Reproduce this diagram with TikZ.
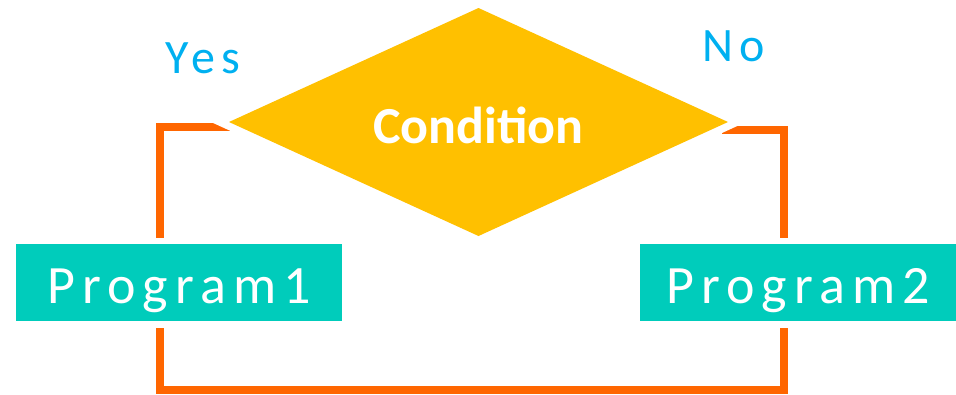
\documentclass[tikz,border=0pt]{standalone}
\usepackage{fontspec}
\setmainfont{Carlito}
\newfontfamily\spacedfont[LetterSpace=13]{Carlito}
\usetikzlibrary{shapes.geometric,backgrounds}
\definecolor{condyellow}{HTML}{FFC000}
\definecolor{progteal}{HTML}{00CCBB}
\definecolor{lblblue}{HTML}{00B0F0}
\definecolor{connorange}{HTML}{FF6600}
\begin{document}
\begin{tikzpicture}[x=1pt,y=-1pt,
  condbox/.style={diamond, aspect=2.2, fill=condyellow, minimum width=499pt, minimum height=228pt,
    inner sep=0pt, outer sep=0pt, preaction={draw=white, line width=15pt},
    text=white, font=\bfseries\fontsize{52}{60}\selectfont, text height=42pt, text depth=0pt},
  progbox/.style={rectangle, fill=progteal, minimum width=326pt, minimum height=77pt,
    inner sep=0pt, outer sep=0pt, text=white, font=\spacedfont\fontsize{54}{62}\selectfont,
    text height=41pt, text depth=0pt},
  lbl/.style={text=lblblue, font=\spacedfont\fontsize{48}{56}\selectfont, anchor=base west, inner sep=0pt},
  conn/.style={draw=connorange, line width=8pt}]
\useasboundingbox (0,0) rectangle (956,394);
\node[condbox] (cond) at (478.5,122) {Condition};
\node[progbox] (p1) at (179,282.5) {Program1};
\node[progbox, minimum width=316pt] (p2) at (798,282.5) {Program2};
\node[lbl] (yes) at (165,73) {Yes};
\node[lbl] (no) at (702,61) {No};
\coordinate (botc) at (480,390);
\begin{scope}[on background layer]
  \draw[conn, shorten >=6pt] ([xshift=6pt,yshift=-5pt]cond.west) -| ([xshift=-19pt]p1.north);
  \draw[conn, shorten >=6pt] ([xshift=-6pt,yshift=-8pt]cond.east) -| ([xshift=-14pt]p2.north);
  \draw[conn, shorten <=7pt, shorten >=7pt] ([xshift=-19pt]p1.south) |- (botc) -| ([xshift=-14pt]p2.south);
\end{scope}
\end{tikzpicture}
\end{document}
